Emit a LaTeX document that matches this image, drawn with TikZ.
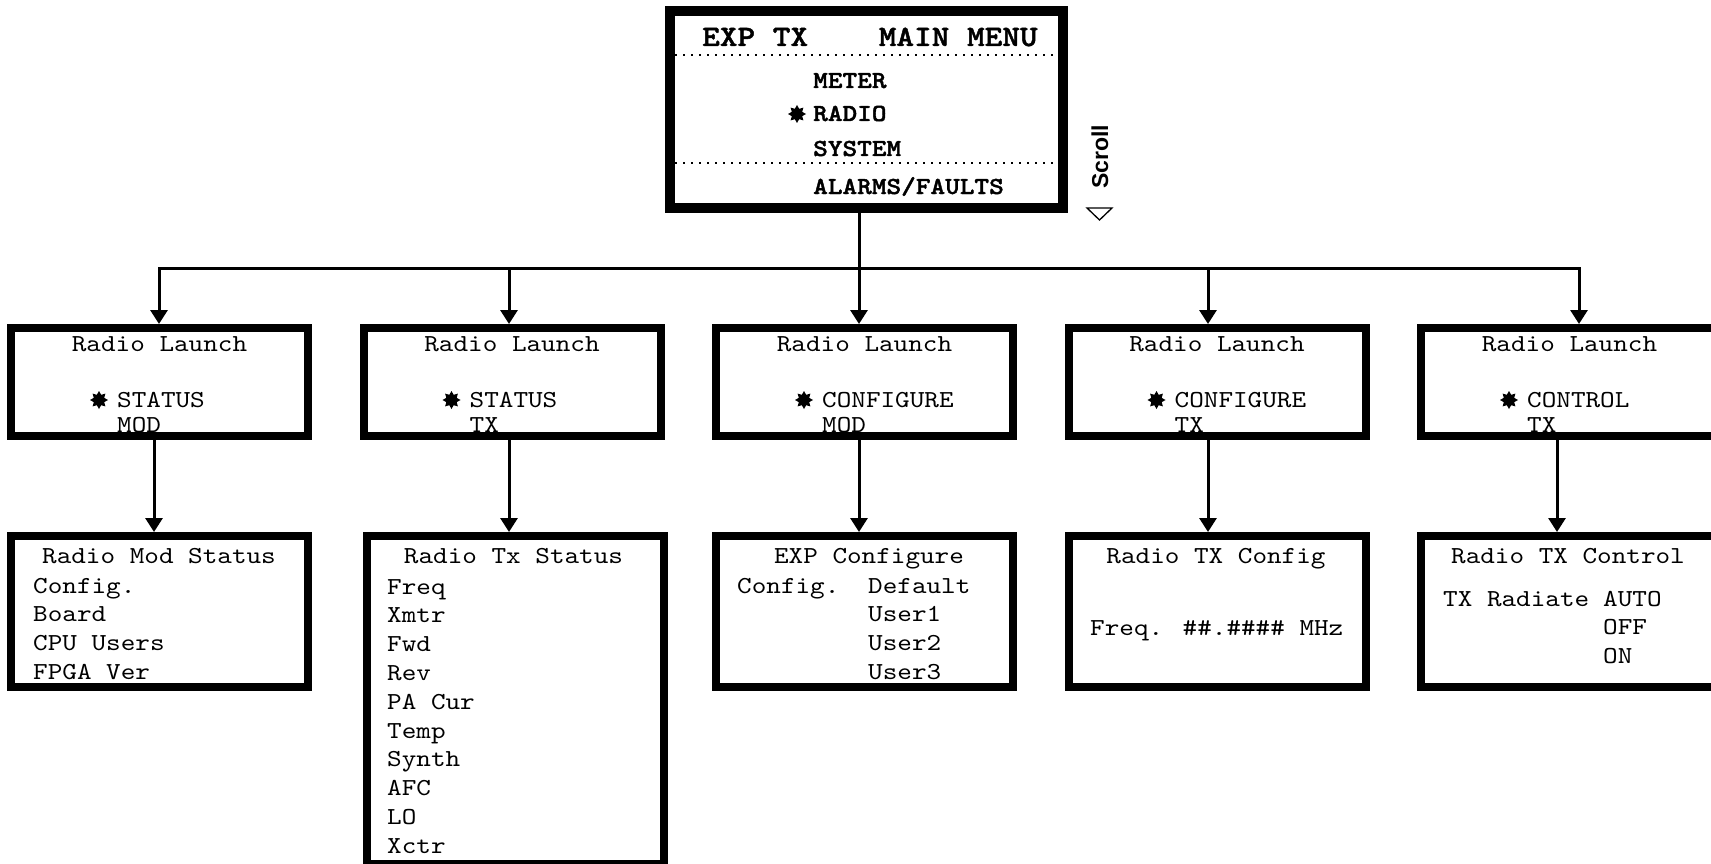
\documentclass[tikz,border=0pt]{standalone}
\usepackage{fontspec}
\newfontfamily\lcdfont{lmmono10-regular}[Extension=.otf, FakeStretch=1.14]
\newfontfamily\lcdbfont{lmmonolt10-bold}[Extension=.otf, FakeStretch=1.14, FakeBold=1.6]
\newfontfamily\scrollfont{Liberation Sans}
\usetikzlibrary{arrows.meta,shapes.geometric,positioning}

\tikzset{
  screen/.style={draw, line width=8pt, minimum width=297pt, inner sep=0pt},
  lcd/.style={inner sep=0pt, font=\fontsize{24.4}{24.4}\selectfont\lcdfont},
  lcdbold/.style={inner sep=0pt, font=\fontsize{24.5}{24.5}\selectfont\lcdbfont},
  wire/.style={line width=3pt, line join=miter},
  link/.style={wire, -{Triangle[length=14pt,width=17pt]}},
  pick/.style={star, star points=8, star point ratio=1.6, fill, draw=none,
    minimum size=18pt, inner sep=0pt},
  dotline/.style={line width=2pt, dash pattern=on 2pt off 6pt}
}

\begin{document}
\begin{tikzpicture}[x=1pt,y=-1pt]
  \useasboundingbox (0,0) rectangle (1711,864);
  % main menu screen
  \node[draw, line width=10pt, minimum width=393pt, minimum height=197pt, inner sep=0pt] (main) at (866.5,109.5) {};
  \node[lcdbold, font=\fontsize{29.5}{29.5}\selectfont\lcdbfont, anchor=base west] (mtitle) at (702,46) {EXP TX~~~~MAIN MENU};
  \draw[dotline] (675,55) -- (1058,55);
  \node[lcdbold, anchor=base west] (meter) at (813,88) {METER};
  \node[pick] (msel) at (797,114) {};
  \node[lcdbold, anchor=base west] (radio) at (813,121) {RADIO};
  \node[lcdbold, anchor=base west] (system) at (813,156) {SYSTEM};
  \draw[dotline] (675,163) -- (1058,163);
  \node[lcdbold, anchor=base west] (alarms) at (813,194) {ALARMS/FAULTS};
  \node[rotate=90, inner sep=0pt, font=\fontsize{23}{23}\selectfont\scrollfont\bfseries] (scroll) at (1100,157) {Scroll};
  \draw[line width=1.3pt] (1087,208) -- (1112,208) -- (1099.5,220) -- cycle;

  % launch screens
  \foreach \n/\x/\opt/\sub in {1/7/STATUS/MOD, 2/359.5/STATUS/TX, 3/712/CONFIGURE/MOD,
      4/1064.5/CONFIGURE/TX, 5/1417/CONTROL/TX}{
    \node[screen, minimum height=108pt] (l\n) at ({\x+152.5},382) {};
    \node[lcd, anchor=base] (lt\n) at ({\x+152.5},351) {Radio Launch};
    \node[pick] (ls\n) at ({\x+92},400) {};
    \node[lcd, anchor=base west] (lo\n) at ({\x+110},407) {\opt};
    \node[lcd, anchor=base west] (lu\n) at ({\x+110},432) {\sub};
  }

  % bus from main menu
  \coordinate (t1) at (159,268);
  \coordinate (t2) at (509,268);
  \coordinate (t3) at (859,268);
  \coordinate (t4) at (1208,268);
  \coordinate (t5) at (1579,268);
  \draw[link] (main.south -| t3) -- (t3 |- l3.north);
  \draw[link] (t3) -- (t1) -- (t1 |- l1.north);
  \draw[link] (t3) -- (t5) -- (t5 |- l5.north);
  \draw[link] (t2) -- (t2 |- l2.north);
  \draw[link] (t4) -- (t4 |- l4.north);

  % detail screens
  \node[screen, minimum height=151pt] (d1) at (159.5,611.5) {};
  \node[screen, minimum height=328pt] (d2) at (515,700) {};
  \node[screen, minimum height=151pt] (d3) at (864.5,611.5) {};
  \node[screen, minimum height=151pt] (d4) at (1217,611.5) {};
  \node[screen, minimum height=151pt] (d5) at (1569.5,611.5) {};

  \foreach \n/\dx in {1/-5.5, 2/-3, 3/-5.5, 4/-9, 5/-12.5}
    \draw[link] ([xshift=\dx pt]l\n.south) -- ([xshift=\dx pt]l\n.south |- d\n.north);

  % Radio Mod Status
  \node[lcd, anchor=base] (dt1) at (159,563) {Radio Mod Status};
  \foreach \t [count=\k from 0] in {Config.,Board,CPU Users,FPGA Ver}
    \node[lcd, anchor=base west] (da\k) at (33,{593+28.8*\k}) {\t};
  % Radio Tx Status
  \node[lcd, anchor=base] (dt2) at (513.5,563) {Radio Tx Status};
  \foreach \t [count=\k from 0] in {Freq,Xmtr,Fwd,Rev,PA Cur,Temp,Synth,AFC,LO,Xctr}
    \node[lcd, anchor=base west] (db\k) at (387,{594+28.8*\k}) {\t};
  % EXP Configure
  \node[lcd, anchor=base] (dt3) at (869,563) {EXP Configure};
  \node[lcd, anchor=base west] (dcfg) at (737,593) {Config.};
  \foreach \t [count=\k from 0] in {Default,User1,User2,User3}
    \node[lcd, anchor=base west] (dc\k) at (868,{593+28.8*\k}) {\t};
  % Radio TX Config
  \node[lcd, anchor=base] (dt4) at (1216,563) {Radio TX Config};
  \node[lcd, anchor=base west] (dfreq) at (1090,635) {Freq. \#\#.\#\#\#\# MHz};
  % Radio TX Control
  \node[lcd, anchor=base] (dt5) at (1568,563) {Radio TX Control};
  \node[lcd, anchor=base west] (drad) at (1443,606) {TX Radiate};
  \foreach \t [count=\k from 0] in {AUTO,OFF,ON}
    \node[lcd, anchor=base west] (de\k) at (1603,{606+28.7*\k}) {\t};
\end{tikzpicture}
\end{document}
